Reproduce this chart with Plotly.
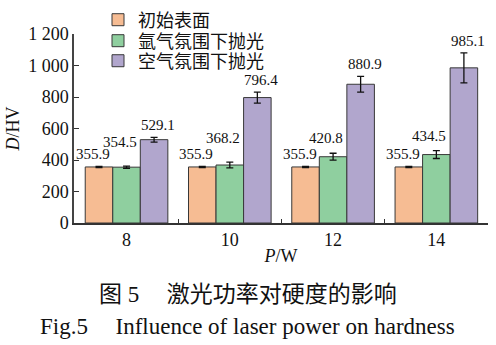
import plotly.graph_objects as go

powers = ["8", "10", "12", "14"]
series_names = ["初始表面", "氩气氛围下抛光", "空气氛围下抛光"]
initial = [355.9, 355.9, 355.9, 355.9]
argon = [354.5, 368.2, 420.8, 434.5]
air = [529.1, 796.4, 880.9, 985.1]
initial_err = [4, 4, 4, 4]
argon_err = [7, 18, 22, 25]
air_err = [15, 35, 50, 95]
y_ticks = [0, 200, 400, 600, 800, 1000, 1200]

colors = ["#F6BC93", "#8FCF9F", "#B1A6CD"]
values = [initial, argon, air]
errors = [initial_err, argon_err, air_err]

SERIF = "Liberation Serif, 'Noto Sans CJK SC', serif"
MIX = "'Liberation Serif', 'Noto Sans CJK SC', serif"
BARGAP = 0.2
legend_ids = ["legend", "legend2", "legend3"]
legend_y = [1.074, 0.963, 0.857]

fig = go.Figure()
for name, vals, errs, col, lid in zip(series_names, values, errors, colors, legend_ids):
    fig.add_trace(go.Bar(
        x=powers, y=vals, name=name, legend=lid,
        marker=dict(color=col, line=dict(color="#383838", width=1)),
        error_y=dict(type="data", array=errs, visible=True,
                     color="#111111", thickness=1.3, width=3.5),
    ))

# value labels above error bars
bw = (1 - BARGAP) / 3
label_dx = [-6, -7, 4]
for j, (vals, errs) in enumerate(zip(values, errors)):
    for i, (v, e) in enumerate(zip(vals, errs)):
        ys = 2
        if j == 1:
            ys = 14 if (v + e) - (values[0][i] + errors[0][i]) < 40 else 5
        fig.add_annotation(
            x=i + (j - 1) * bw, y=v + e, text=f"{v:.1f}",
            showarrow=False, yanchor="bottom", xanchor="center",
            xshift=label_dx[j], yshift=ys,
            font=dict(family=SERIF, size=15, color="#111111"),
        )

fig.add_annotation(
    xref="paper", yref="paper", x=0.42, y=-0.38,
    text="图 5\u2003\u2009激光功率对硬度的影响", showarrow=False,
    xanchor="center", yanchor="middle",
    font=dict(family=MIX, size=23, color="#111111"),
)
fig.add_annotation(
    xref="paper", yref="paper", x=0.42, y=-0.55,
    text="Fig.5\u2003\u2009Influence of laser power on hardness", showarrow=False,
    xanchor="center", yanchor="middle",
    font=dict(family=SERIF, size=23, color="#111111"),
)

legend_common = dict(
    x=0.058, xanchor="left", yanchor="middle",
    font=dict(family=MIX, size=18, color="#111111"),
    bgcolor="rgba(0,0,0,0)", borderwidth=0,
)

fig.update_layout(
    width=496, height=345,
    margin=dict(l=74, r=8, t=34, b=122, autoexpand=False),
    paper_bgcolor="white", plot_bgcolor="white",
    barmode="group", bargap=BARGAP, bargroupgap=0,
    separators=". ",
    font=dict(family=MIX, color="#111111"),
    showlegend=True,
    legend=dict(y=legend_y[0], **legend_common),
    legend2=dict(y=legend_y[1], **legend_common),
    legend3=dict(y=legend_y[2], **legend_common),
    xaxis=dict(
        title=dict(text="<i>P</i>/W", font=dict(family=SERIF, size=18), standoff=0),
        showline=True, linecolor="#333333", linewidth=1.5,
        ticks="inside", tickson="boundaries", ticklen=4, tickcolor="#333333",
        tickfont=dict(family=SERIF, size=18),
        showgrid=False, zeroline=False, automargin=False,
    ),
    yaxis=dict(
        title=dict(text="<i>D</i>/HV", font=dict(family=SERIF, size=18), standoff=4),
        range=[0, 1200], tickvals=y_ticks, separatethousands=True,
        showline=True, linecolor="#444444", linewidth=1.5,
        ticks="inside", ticklen=5, tickcolor="#333333",
        tickfont=dict(family=SERIF, size=18),
        showgrid=False, zeroline=False, automargin=False,
    ),
)

fig.write_html("out.html")
